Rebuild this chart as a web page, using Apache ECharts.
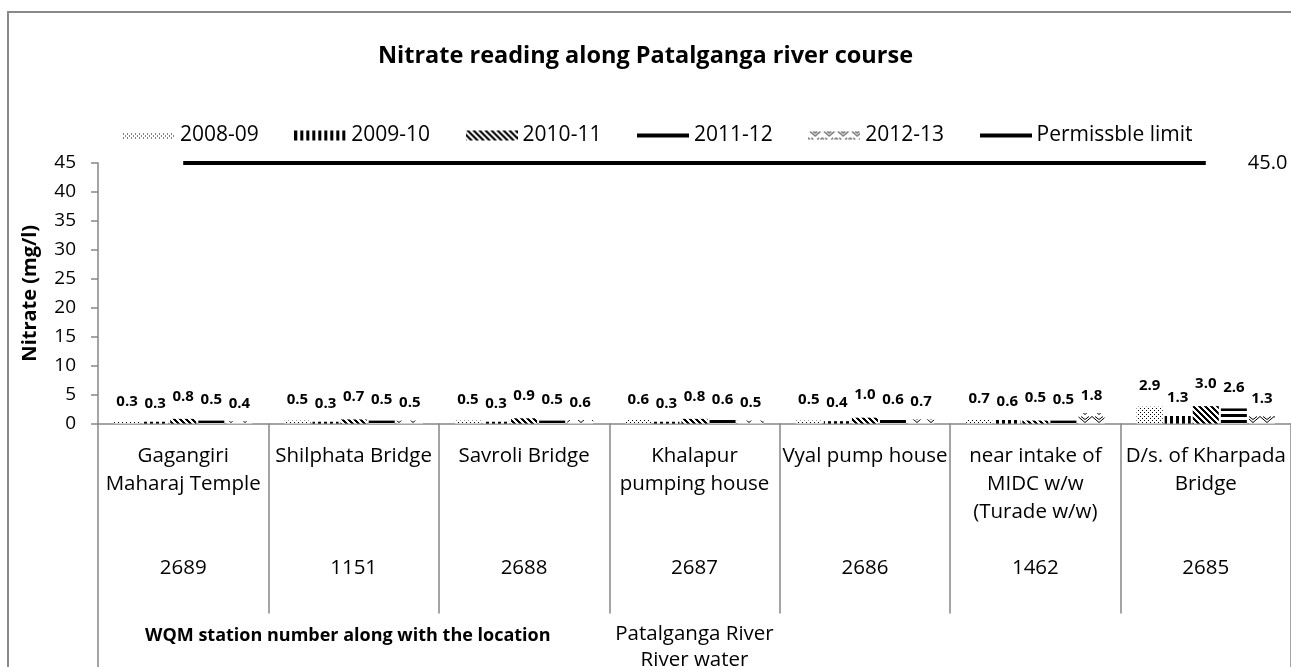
<!DOCTYPE html>
<html>
<head>
<meta charset="utf-8">
<script src="https://cdn.jsdelivr.net/npm/echarts@6/dist/echarts.min.js"></script>
<style>
  html, body { margin: 0; padding: 0; background: #fff; }
  #chart { width: 1291px; height: 667px; }
</style>
</head>
<body>
<div id="chart"></div>
<script>
// Monitoring stations (location and station number)
const stations = [
  'Gagangiri\nMaharaj Temple',
  'Shilphata Bridge',
  'Savroli Bridge',
  'Khalapur\npumping house',
  'Vyal pump house',
  'near intake of\nMIDC w/w\n(Turade w/w)',
  'D/s. of Kharpada\nBridge'
];
const stationNumbers = ['2689', '1151', '2688', '2687', '2686', '1462', '2685'];

// Nitrate (mg/l) per year
const y2008_09 = [0.3, 0.5, 0.5, 0.6, 0.5, 0.7, 2.9];
const y2009_10 = [0.3, 0.3, 0.3, 0.3, 0.4, 0.6, 1.3];
const y2010_11 = [0.8, 0.7, 0.9, 0.8, 1.0, 0.5, 3.0];
const y2011_12 = [0.5, 0.5, 0.5, 0.6, 0.6, 0.5, 2.6];
const y2012_13 = [0.4, 0.5, 0.6, 0.5, 0.7, 1.8, 1.3];
const permissibleLimit = [45, 45, 45, 45, 45, 45, 45];

const yTicks = { min: 0, max: 45, interval: 5 };

const FONT = '"Open Sans", sans-serif';
const GRAY = '#868686';

// Small black-and-white tiles used as hatch fills
function makeTile(kind) {
  const c = document.createElement('canvas');
  const size = { dots: [4, 4], vert: [6, 6], diag: [6, 6], horiz: [6, 6], zigzag: [14, 8] }[kind];
  c.width = size[0]; c.height = size[1];
  const g = c.getContext('2d');
  g.fillStyle = '#fff';
  g.fillRect(0, 0, c.width, c.height);
  g.fillStyle = '#000';
  if (kind === 'dots') {
    g.fillRect(0, 0, 1, 1);
    g.fillRect(2, 2, 1, 1);
  } else if (kind === 'vert') {
    g.fillRect(0, 0, 3, 6);
  } else if (kind === 'diag') {
    for (let y = 0; y < 6; y++) for (let x = 0; x < 6; x++) {
      if (((x - y) % 6 + 6) % 6 < 3) g.fillRect(x, y, 1, 1);
    }
  } else if (kind === 'horiz') {
    g.fillRect(0, 0, 6, 3);
  } else if (kind === 'zigzag') {
    g.strokeStyle = '#000';
    g.lineWidth = 1;
    g.beginPath();
    g.moveTo(0, 0.5); g.lineTo(7, 6.5); g.lineTo(14, 0.5);
    g.moveTo(3, 0.5); g.lineTo(7, 3.5); g.lineTo(11, 0.5);
    g.stroke();
  }
  return c;
}

// Legend swatches: a strip of the same fill
function makeIcon(kind) {
  const c = document.createElement('canvas');
  c.width = 52; c.height = 12;
  const g = c.getContext('2d');
  const strip = { dots: [3, 7], vert: [1, 10], diag: [1, 10], horiz: [4, 4], zigzag: [2, 8], line: [4, 4] }[kind];
  if (kind === 'horiz' || kind === 'line') {
    g.fillStyle = '#000';
  } else {
    g.fillStyle = g.createPattern(makeTile(kind), 'repeat');
  }
  g.fillRect(0, strip[0], 52, strip[1]);
  return 'image://' + c.toDataURL();
}

const yearSeries = [
  { name: '2008-09', data: y2008_09, fill: 'dots', dist: 13 },
  { name: '2009-10', data: y2009_10, fill: 'vert', dist: 11 },
  { name: '2010-11', data: y2010_11, fill: 'diag', dist: 15 },
  { name: '2011-12', data: y2011_12, fill: 'horiz', dist: 13 },
  { name: '2012-13', data: y2012_13, fill: 'zigzag', dist: 10 }
];

const chart = echarts.init(document.getElementById('chart'), null, { renderer: 'canvas' });

const series = yearSeries.map(s => ({
  name: s.name,
  type: 'bar',
  data: s.data,
  barWidth: 26,
  barGap: '8%',
  itemStyle: { color: { image: makeTile(s.fill), repeat: 'repeat' } },
  label: {
    show: true,
    position: 'top',
    distance: s.dist,
    fontFamily: FONT,
    fontSize: 15,
    fontWeight: 'bold',
    color: '#000',
    formatter: p => Number(p.value).toFixed(1)
  }
}));

series.push({
  name: 'Permissble limit',
  type: 'line',
  data: permissibleLimit,
  symbol: 'none',
  lineStyle: { color: '#000', width: 4 },
  itemStyle: { color: '#000' },
  endLabel: {
    show: true,
    distance: 42,
    fontFamily: FONT,
    fontSize: 20,
    color: '#000',
    formatter: p => Number(p.value).toFixed(1)
  }
});

const legendData = yearSeries.map(s => ({ name: s.name, icon: makeIcon(s.fill) }));
legendData.push({ name: 'Permissble limit', icon: makeIcon('line') });

chart.setOption({
  animation: false,
  backgroundColor: '#fff',
  textStyle: { fontFamily: FONT },
  title: [
    {
      text: 'Nitrate reading along Patalganga river course',
      left: 'center',
      top: 37,
      textStyle: { fontFamily: FONT, fontSize: 23.5, fontWeight: 'bold', color: '#000', lineHeight: 28 }
    },
    {
      text: 'WQM station number along with the location',
      left: 140,
      top: 619,
      textStyle: { fontFamily: FONT, fontSize: 18, fontWeight: 'bold', color: '#000', lineHeight: 24 }
    }
  ],
  legend: {
    left: 123,
    top: 125,
    padding: 0,
    itemWidth: 52,
    itemHeight: 12,
    itemGap: 35.5,
    textStyle: { fontFamily: FONT, fontSize: 21, color: '#000' },
    data: legendData
  },
  grid: { left: 98, right: 0, top: 163, bottom: 243.5, containLabel: false, outerBoundsMode: 'none' },
  xAxis: [
    {
      type: 'category',
      data: stations,
      axisLine: { lineStyle: { color: GRAY, width: 1.5 } },
      axisTick: { show: true, length: 190, lineStyle: { color: GRAY, width: 1.5 } },
      axisLabel: {
        interval: 0,
        margin: 19,
        fontFamily: FONT,
        fontSize: 20.5,
        lineHeight: 28,
        color: '#000',
        formatter: (v, i) => v + '\n'.repeat(5 - v.split('\n').length) + stationNumbers[i]
      }
    },
    {
      type: 'category',
      data: ['Patalganga River'],
      position: 'bottom',
      offset: 190,
      axisLine: { show: false },
      axisTick: { show: true, length: 70, lineStyle: { color: GRAY, width: 1.5 } },
      axisLabel: {
        interval: 0,
        margin: 8,
        fontFamily: FONT,
        fontSize: 20.5,
        lineHeight: 26,
        color: '#000',
        formatter: v => v + '\nRiver water'
      }
    }
  ],
  yAxis: {
    type: 'value',
    min: yTicks.min,
    max: yTicks.max,
    interval: yTicks.interval,
    axisLine: { show: true, lineStyle: { color: GRAY, width: 1.5 } },
    axisTick: { show: true, length: 7, lineStyle: { color: GRAY, width: 1.5 } },
    splitLine: { show: false },
    axisLabel: { fontFamily: FONT, fontSize: 19, color: '#000', margin: 22 },
    name: 'Nitrate (mg/l)',
    nameLocation: 'middle',
    nameGap: 58,
    nameTextStyle: { fontFamily: FONT, fontSize: 20, fontWeight: 'bold', color: '#000' }
  },
  graphic: [
    {
      type: 'rect',
      silent: true,
      z: -10,
      shape: { x: 8, y: 12, width: 1400, height: 800 },
      style: { fill: 'none', stroke: '#898989', lineWidth: 2 }
    }
  ],
  series: series
});
</script>
</body>
</html>
